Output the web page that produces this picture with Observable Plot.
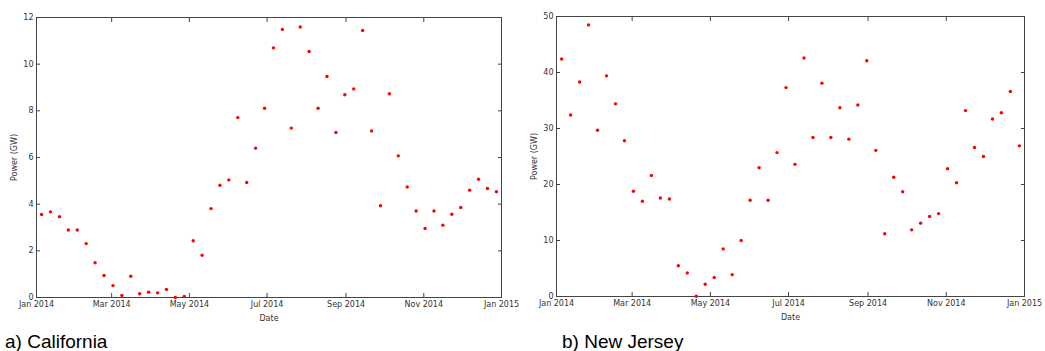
<!DOCTYPE html>
<html><head><meta charset="utf-8">
<script src="https://cdn.jsdelivr.net/npm/d3@7"></script>
<script src="https://cdn.jsdelivr.net/npm/@observablehq/plot@0.6"></script>
<style>
body{margin:0;background:#fff;}
#wrap{position:relative;width:1045px;height:351px;overflow:hidden;background:#fff;}
.panel{position:absolute;top:0;}
.cap{position:absolute;font-family:"Liberation Sans",Arial,sans-serif;font-size:19px;color:#000;line-height:1;white-space:nowrap;}
</style></head><body>
<div id="wrap"></div>
<script>
const weekDates = ["2014-01-05","2014-01-12","2014-01-19","2014-01-26","2014-02-02","2014-02-09","2014-02-16","2014-02-23",
"2014-03-02","2014-03-09","2014-03-16","2014-03-23","2014-03-30","2014-04-06","2014-04-13","2014-04-20","2014-04-27",
"2014-05-04","2014-05-11","2014-05-18","2014-05-25","2014-06-01","2014-06-08","2014-06-15","2014-06-22","2014-06-29",
"2014-07-06","2014-07-13","2014-07-20","2014-07-27","2014-08-03","2014-08-10","2014-08-17","2014-08-24","2014-08-31",
"2014-09-07","2014-09-14","2014-09-21","2014-09-28","2014-10-05","2014-10-12","2014-10-19","2014-10-26",
"2014-11-02","2014-11-09","2014-11-16","2014-11-23","2014-11-30","2014-12-07","2014-12-14","2014-12-21","2014-12-28"];

const californiaGW = [3.56,3.67,3.46,2.89,2.89,2.31,1.49,0.94,0.51,0.09,0.91,0.16,0.23,0.20,0.34,0.00,0.05,2.43,1.81,3.81,4.81,5.04,7.71,4.93,6.40,8.11,10.70,11.49,7.26,11.59,10.54,8.11,9.47,7.07,8.69,8.94,11.44,7.14,3.93,8.73,6.07,4.74,3.71,2.96,3.71,3.10,3.57,3.86,4.60,5.07,4.67,4.53];

const newJerseyGW = [42.4,32.4,38.3,48.5,29.7,39.4,34.4,27.8,18.8,17.0,21.6,17.6,17.4,5.5,4.2,0.05,2.2,3.4,8.5,3.9,10.0,17.2,23.0,17.2,25.7,37.3,23.6,42.6,28.4,38.1,28.4,33.7,28.1,34.2,42.1,26.1,11.2,21.3,18.7,11.9,13.1,14.3,14.8,22.8,20.3,33.2,26.6,25.0,31.7,32.8,36.6,26.9];

const dateTicks = ["2014-01-01","2014-03-01","2014-05-01","2014-07-01","2014-09-01","2014-11-01","2015-01-01"];
const californiaTicks = [0,2,4,6,8,10,12];
const newJerseyTicks = [0,10,20,30,40,50];
const captions = ["a) California","b) New Jersey"];

const xDomain = [new Date("2014-01-01"), new Date("2015-01-01")];
const xTickDates = dateTicks.map(d => new Date(d));
const fmt = d3.utcFormat("%b %Y");
const H = 326;

function panel(values, yTicks, opts) {
  const data = weekDates.map((d, i) => ({date: new Date(d), value: values[i]}));
  const yDomain = [yTicks[0], yTicks[yTicks.length - 1]];
  return Plot.plot({
    width: opts.width, height: H,
    marginLeft: 36, marginRight: opts.marginRight, marginTop: opts.marginTop, marginBottom: H - opts.bottom,
    style: {fontFamily: "DejaVu Sans", fontSize: "8px", color: "#333", background: "transparent"},
    x: {type: "utc", domain: xDomain},
    y: {domain: yDomain},
    marks: [
      Plot.frame({stroke: "#444"}),
      Plot.axisX(xTickDates, {anchor: "bottom", tickSize: -4, tickPadding: 8, tickFormat: fmt, stroke: "#444",
        label: "Date", labelAnchor: "center", labelOffset: 23, labelArrow: "none"}),
      Plot.axisX(xTickDates, {anchor: "top", tickSize: -4, tickFormat: () => "", stroke: "#444", label: null}),
      Plot.axisY(yTicks, {anchor: "left", tickSize: -4, tickPadding: 7, stroke: "#444",
        label: "Power (GW)", labelAnchor: "center", labelOffset: 25, labelArrow: "none"}),
      Plot.axisY(yTicks, {anchor: "right", tickSize: -4, tickFormat: () => "", stroke: "#444", label: null}),
      Plot.dot(data, {x: "date", y: "value", r: 1.7, fill: "red", stroke: "none", clip: false})
    ]
  });
}

const wrap = document.getElementById("wrap");
function add(el, left) {
  const d = document.createElement("div");
  d.className = "panel"; d.style.left = left + "px";
  d.appendChild(el); wrap.appendChild(d);
}
add(panel(californiaGW, californiaTicks, {width: 520, marginRight: 19, marginTop: 17, bottom: 297}), 0);
add(panel(newJerseyGW, newJerseyTicks, {width: 525, marginRight: 21, marginTop: 16, bottom: 296}), 520);

[[captions[0], 5], [captions[1], 562]].forEach(([t, x]) => {
  const c = document.createElement("div");
  c.className = "cap"; c.textContent = t;
  c.style.left = x + "px"; c.style.top = "332px";
  wrap.appendChild(c);
});
</script>
</body></html>
